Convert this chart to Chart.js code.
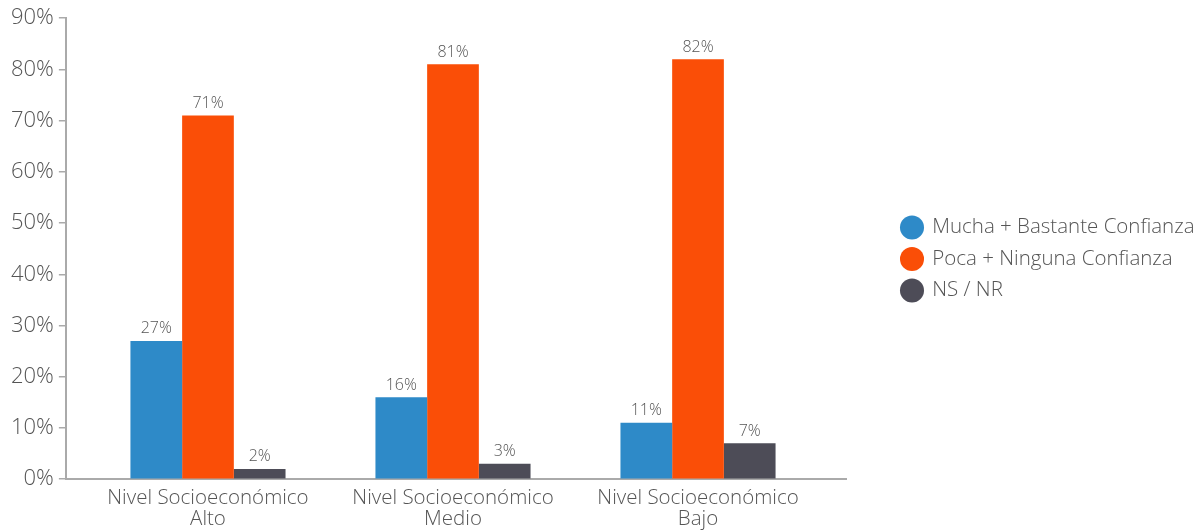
<!DOCTYPE html>
<html>
<head>
<meta charset="utf-8">
<script src="https://cdn.jsdelivr.net/npm/chart.js@4/dist/chart.umd.min.js"></script>
<style>
  html, body { margin: 0; padding: 0; background: #fff; }
  #wrap { width: 1198px; height: 531px; }
</style>
</head>
<body>
<div id="wrap"><canvas id="chart"></canvas></div>
<script>
// Données du graphique
const categories = [
  ['Nivel Socioeconómico', 'Alto'],
  ['Nivel Socioeconómico', 'Medio'],
  ['Nivel Socioeconómico', 'Bajo']
];
const muchaBastante = [27, 16, 11];
const pocaNinguna = [71, 81, 82];
const nsNr = [2, 3, 7];
const yTicks = [0, 10, 20, 30, 40, 50, 60, 70, 80, 90];

const FONT = "'Open Sans', 'DejaVu Sans', sans-serif";
const TEXT = '#555';
const LEGEND_GAP = 45;      // espace entre la zone du graphique et la légende
const LEGEND_SHIFT_Y = -11; // remonte un peu la légende

// Étiquettes de valeur au-dessus des barres
const valueLabels = {
  id: 'valueLabels',
  afterDatasetsDraw(chart) {
    const ctx = chart.ctx;
    ctx.save();
    ctx.font = '300 16px ' + FONT;
    ctx.fillStyle = TEXT;
    ctx.textAlign = 'center';
    ctx.textBaseline = 'bottom';
    chart.data.datasets.forEach((ds, i) => {
      chart.getDatasetMeta(i).data.forEach((bar, j) => {
        ctx.fillText(ds.data[j].y + '%', bar.x, bar.y - 4);
      });
    });
    ctx.restore();
  }
};

// Décale la légende pour laisser un espace libre à sa gauche
const legendGap = {
  id: 'legendGap',
  beforeLayout(chart) {
    const legend = chart.legend;
    if (legend && !legend._gapWrapped) {
      const fit = legend.fit;
      legend.fit = function () {
        fit.call(this);
        this.width += LEGEND_GAP;
      };
      legend._gapWrapped = true;
    }
  },
  afterLayout(chart) {
    const legend = chart.legend;
    if (legend) {
      legend.left += LEGEND_GAP;
      legend.right += LEGEND_GAP;
      legend.top += LEGEND_SHIFT_Y;
      legend.bottom += LEGEND_SHIFT_Y;
    }
  }
};

const toPoints = arr => arr.map((v, i) => ({ x: i, y: v }));

new Chart(document.getElementById('chart'), {
  type: 'bar',
  data: {
    datasets: [
      { label: 'Mucha + Bastante Confianza', data: toPoints(muchaBastante), backgroundColor: '#2E8AC8' },
      { label: 'Poca + Ninguna Confianza', data: toPoints(pocaNinguna), backgroundColor: '#FA4E07' },
      { label: 'NS / NR', data: toPoints(nsNr), backgroundColor: '#4D4C57' }
    ]
  },
  options: {
    responsive: true,
    maintainAspectRatio: false,
    animation: false,
    categoryPercentage: 0.633,
    barPercentage: 1.0,
    layout: { padding: { left: 6, right: 12, top: 9, bottom: 0 } },
    plugins: {
      tooltip: { enabled: false },
      legend: {
        position: 'right',
        labels: {
          usePointStyle: true,
          pointStyle: 'circle',
          boxWidth: 20,
          boxHeight: 17,
          padding: 11,
          color: TEXT,
          font: { family: FONT, size: 20.5, weight: '300' }
        }
      }
    },
    scales: {
      x: {
        type: 'linear',
        offset: false,
        min: -0.58,
        max: 2.604,
        afterBuildTicks: scale => { scale.ticks = categories.map((c, i) => ({ value: i })); },
        grid: { display: false },
        border: { display: true, color: '#aaa', width: 2 },
        ticks: {
          autoSkip: false,
          maxRotation: 0,
          padding: 1,
          color: TEXT,
          font: { family: FONT, size: 20.5, weight: '300', lineHeight: 1.02 },
          callback: v => categories[v]
        }
      },
      y: {
        min: 0,
        max: 90,
        afterBuildTicks: scale => { scale.ticks = yTicks.map(v => ({ value: v })); },
        grid: { drawOnChartArea: false, tickLength: 7, color: '#aaa', lineWidth: 1.5 },
        border: { display: true, color: '#aaa', width: 2 },
        ticks: {
          padding: 5,
          color: TEXT,
          font: { family: FONT, size: 22, weight: '300' },
          callback: v => v + '%'
        }
      }
    }
  },
  plugins: [valueLabels, legendGap]
});
</script>
</body>
</html>
